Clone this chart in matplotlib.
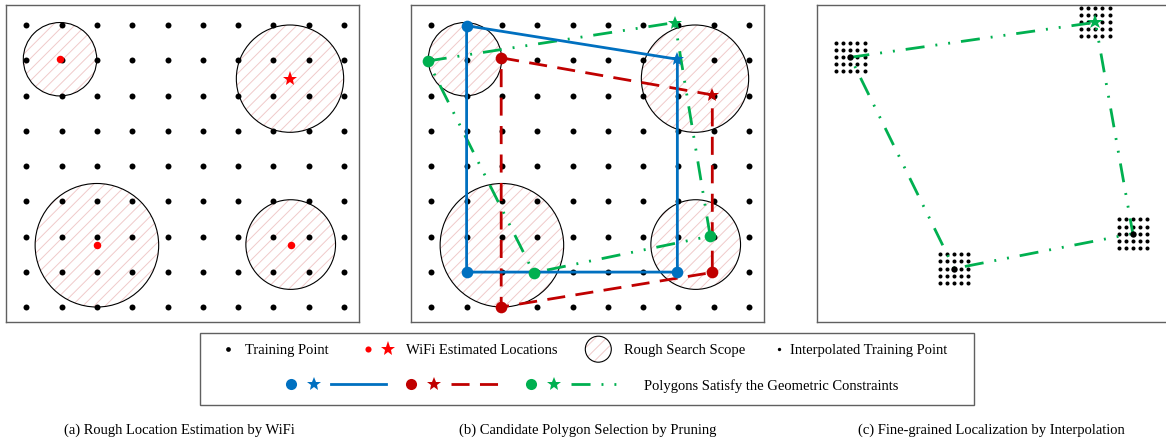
import numpy as np
import matplotlib
matplotlib.use("Agg")
import matplotlib.pyplot as plt
from matplotlib.patches import Circle, Rectangle
from matplotlib.lines import Line2D
from matplotlib.legend_handler import HandlerBase, HandlerTuple

plt.rcParams['font.family'] = ['Liberation Serif', 'DejaVu Serif']
plt.rcParams['lines.scale_dashes'] = False
plt.rcParams['hatch.linewidth'] = 0.7

# ---------------- data ----------------
grid_cols = np.arange(10)
grid_rows = np.arange(9)

# rough search scopes (centre x, centre y, radius) in grid units
scope_x = [0.955, 7.47, 2.0, 7.49]
scope_y = [0.97, 1.52, 6.24, 6.22]
scope_r = [1.04, 1.52, 1.75, 1.27]

# WiFi estimated locations
wifi_x = [0.955, 7.47, 1.99, 7.49]
wifi_y = [0.97, 1.52, 6.24, 6.22]
wifi_is_star = [False, True, False, False]

# candidate polygons (vertex 1 is the star)
blue_x = [1.0, 6.97, 6.97, 1.0]
blue_y = [0.02, 0.97, 7.0, 7.0]
red_x = [1.98, 7.96, 7.96, 1.98]
red_y = [0.93, 1.98, 7.01, 7.99]
green_x = [-0.10, 6.90, 7.90, 2.90]
green_y = [1.02, -0.07, 5.98, 7.02]

# fine-grained polygon (panel c) and interpolation clusters
fine_x = [0.38, 7.32, 8.38, 3.32]
fine_y = [0.915, -0.076, 5.91, 6.90]
fine_is_star = [False, True, False, False]
interp_offsets = np.array([-0.4, -0.2, 0.0, 0.2, 0.4])

captions = ["(a) Rough Location Estimation by WiFi",
            "(b) Candidate Polygon Selection by Pruning",
            "(c) Fine-grained Localization by Interpolation"]

# ---------------- style ----------------
W, H = 1166, 441
BLUE = '#0070C0'
DRED = '#C00000'
GREEN = '#00B050'
RED = '#FF0000'
PINK = '#F0CACA'
FRAME = '#606060'
FS = 10.5
PX = 0.72  # points per pixel at dpi 100

RED_DASH = (0, (13.0, 7.5))
GREEN_DASH = (0, (13.7, 7.9, 1.4, 7.9, 1.4, 7.9))

fig = plt.figure(figsize=(W / 100, H / 100), dpi=100)


def panel(left_px):
    top, bottom, width = 4.7, 322.0, 352.7
    ax = fig.add_axes([left_px / W, 1 - bottom / H, width / W, (bottom - top) / H])
    ax.set_xlim(-0.575, 9.416)
    ax.set_ylim(8.414, -0.575)
    ax.set_xticks([])
    ax.set_yticks([])
    for s in ax.spines.values():
        s.set_color(FRAME)
        s.set_linewidth(1.0)
    return ax


def grid_dots(ax):
    gx, gy = np.meshgrid(grid_cols, grid_rows)
    ax.plot(gx.ravel(), gy.ravel(), 'o', color='k', ms=4.3, mew=0, zorder=3)


def scopes(ax):
    for x, y, r in zip(scope_x, scope_y, scope_r):
        ax.add_patch(Circle((x, y), r, facecolor='white', edgecolor=PINK,
                            hatch='///', lw=0, zorder=1))
        ax.add_patch(Circle((x, y), r, facecolor='none', edgecolor='k',
                            lw=0.8, zorder=2))


# ---- panel (a)
axa = panel(6.0)
scopes(axa)
grid_dots(axa)
for x, y, st in zip(wifi_x, wifi_y, wifi_is_star):
    if st:
        axa.plot([x], [y], '*', color=RED, ms=11, mew=0, zorder=4)
    else:
        axa.plot([x], [y], 'o', color=RED, ms=5.4, mew=0, zorder=4)

# ---- panel (b)
axb = panel(411.0)
scopes(axb)
grid_dots(axb)


def polygon(ax, xs, ys, color, ls, lw, circ_ms, star_ms):
    cx = list(xs) + [xs[0]]
    cy = list(ys) + [ys[0]]
    ax.plot(cx, cy, color=color, ls=ls, lw=lw, dash_capstyle='butt', zorder=5)
    for i, (x, y) in enumerate(zip(xs, ys)):
        if i == 1:
            ax.plot([x], [y], '*', color=color, ms=star_ms, mew=0, zorder=7)
        else:
            ax.plot([x], [y], 'o', color=color, ms=circ_ms, mew=0, zorder=7)


polygon(axb, red_x, red_y, DRED, RED_DASH, 2.0, 8.4, 10.5)
polygon(axb, green_x, green_y, GREEN, GREEN_DASH, 2.0, 8.4, 10.5)
polygon(axb, blue_x, blue_y, BLUE, '-', 2.0, 8.4, 10.5)

# ---- panel (c)
axc = panel(816.7)
fx = list(fine_x) + [fine_x[0]]
fy = list(fine_y) + [fine_y[0]]
axc.plot(fx, fy, color=GREEN, ls=GREEN_DASH, lw=2.0, dash_capstyle='butt', zorder=5)
for x, y, st in zip(fine_x, fine_y, fine_is_star):
    ox, oy = np.meshgrid(x + interp_offsets, y + interp_offsets)
    axc.plot(ox.ravel(), oy.ravel(), 'o', color='k', ms=2.9, mew=0, zorder=3)
    if st:
        axc.plot([x], [y], '*', color=GREEN, ms=11.5, mew=0, zorder=7)
    else:
        axc.plot([x], [y], 'o', color='k', ms=4.6, mew=0, zorder=6)

# ---------------- legend ----------------
fig.patches.append(Rectangle((199.5 / W, 1 - 404.7 / H), (974.3 - 199.5) / W,
                             (404.7 - 332.7) / H, transform=fig.transFigure,
                             facecolor='none', edgecolor=FRAME, lw=1.0))


class HandlerScope(HandlerBase):
    def create_artists(self, legend, orig_handle, xdescent, ydescent, width,
                       height, fontsize, trans):
        cx = width / 2 - xdescent
        cy = height / 2 - ydescent
        r = 13.0 * PX
        c1 = Circle((cx, cy), r, facecolor='white', edgecolor=PINK, hatch='///',
                    lw=0, transform=trans)
        c2 = Circle((cx, cy), r, facecolor='none', edgecolor='k', lw=0.8,
                    transform=trans)
        return [c1, c2]


def key(handle, label, x_px, y_px, hlen_px, pad_px, hmap=None):
    leg = fig.legend([handle], [label], loc='center left',
                     bbox_to_anchor=(x_px / W, 1 - y_px / H),
                     frameon=False, borderpad=0, borderaxespad=0,
                     handlelength=hlen_px * PX / FS,
                     handletextpad=pad_px * PX / FS,
                     handleheight=0.7, fontsize=FS, handler_map=hmap)
    return leg


def mk(marker, color, ms):
    return Line2D([], [], marker=marker, ls='', color=color, ms=ms, mew=0)


def ln(color, ls):
    return Line2D([], [], color=color, ls=ls, lw=2.0, dash_capstyle='butt')


tup = {tuple: HandlerTuple(ndivide=None, pad=0)}
Y1, Y2 = 350.7, 385.7
key(mk('o', 'k', 3.4), "Training Point", 222.0, Y1, 12.0, 11.0)
key((mk('o', RED, 4.4), mk('*', RED, 11)), "WiFi Estimated Locations",
    358.2, Y1, 39.4, 8.4, tup)
key(Circle((0, 0), 1), "Rough Search Scope", 583.3, Y1, 30.0, 10.7,
    {Circle: HandlerScope()})
key(mk('o', 'k', 2.4), "Interpolated Training Point", 774.7, Y1, 8.0, 7.3)

key((mk('o', BLUE, 8.0), mk('*', BLUE, 10.0)), "", 279.5, Y2, 46.0, 0, tup)
key(ln(BLUE, '-'), "", 331.0, Y2, 54.7, 0)
key((mk('o', DRED, 8.0), mk('*', DRED, 10.0)), "", 399.6, Y2, 45.4, 0, tup)
key(ln(DRED, RED_DASH), "", 451.0, Y2, 48.0, 0)
key((mk('o', GREEN, 8.0), mk('*', GREEN, 10.0)), "", 519.5, Y2, 46.0, 0, tup)
key(ln(GREEN, GREEN_DASH), "Polygons Satisfy the Geometric Constraints",
    571.0, Y2, 46.0, 27.0)

# ---------------- captions ----------------
for cxp, txt in zip([179.7, 587.5, 991.5], captions):
    fig.text(cxp / W, 1 - 430.0 / H, txt, ha='center', va='center', fontsize=FS)

fig.savefig("out.png", dpi=100)
